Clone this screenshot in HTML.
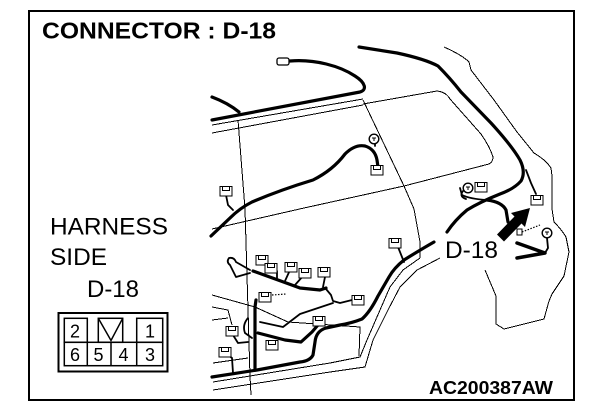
<!DOCTYPE html>
<html><head><meta charset="utf-8">
<style>html,body{margin:0;padding:0;background:#fff}svg{display:block}</style></head>
<body>
<svg width="608" height="418" viewBox="0 0 608 418" xmlns="http://www.w3.org/2000/svg">
<defs>
<g id="cn" shape-rendering="crispEdges"><rect x="-6" y="-4.5" width="12" height="9.5" fill="#fff" stroke="#000" stroke-width="1.3"/><rect x="-3.5" y="-4.5" width="7" height="4" fill="none" stroke="#000" stroke-width="1"/></g>
<g id="rc"><circle cx="0" cy="0" r="4.8" fill="#fff" stroke="#000" stroke-width="1.4"/><path d="M-2,-1 L2,-1 M0,-1 L0,2" stroke="#000" stroke-width="1" fill="none"/></g>
</defs>
<rect x="0" y="0" width="608" height="418" fill="#fff"/>
<rect x="29" y="11" width="545" height="389" fill="none" stroke="#000" stroke-width="2" shape-rendering="crispEdges"/>
<text x="42" y="38.3" font-family="Liberation Sans, Arial, sans-serif" font-weight="bold" font-size="23.3" textLength="234" lengthAdjust="spacingAndGlyphs">CONNECTOR : D-18</text>

<g font-family="Liberation Sans, Arial, sans-serif" font-size="24.5">
<text x="50" y="234.3" textLength="118" lengthAdjust="spacingAndGlyphs">HARNESS</text>
<text x="50" y="265" textLength="57" lengthAdjust="spacingAndGlyphs">SIDE</text>
<text x="87" y="297" textLength="52" lengthAdjust="spacingAndGlyphs">D-18</text>
<text x="445" y="258" textLength="53" lengthAdjust="spacingAndGlyphs">D-18</text>
</g>

<!-- connector face -->
<rect x="58.5" y="313" width="109" height="58.5" fill="none" stroke="#000" stroke-width="2"/>
<g fill="none" stroke="#000" stroke-width="1.5">
<rect x="64.3" y="342.3" width="98.4" height="23.4"/>
<path d="M87.3,342.3 V365.7 M111,342.3 V365.7 M136.7,342.3 V365.7"/>
<rect x="64.3" y="318.3" width="23" height="24"/>
<rect x="98.3" y="318.3" width="24.4" height="24"/>
<path d="M98.3,318.3 L111,340.5 L122.7,318.3"/>
<rect x="136.7" y="318.3" width="26" height="24"/>
</g>
<g font-family="Liberation Sans, Arial, sans-serif" font-size="18" text-anchor="middle">
<text x="75" y="337.3">2</text>
<text x="150" y="337.3">1</text>
<text x="75" y="360.8">6</text>
<text x="98.5" y="360.8">5</text>
<text x="123.5" y="360.8">4</text>
<text x="150" y="360.8">3</text>
</g>

<!-- thin body lines -->
<g fill="none" stroke="#000" stroke-width="1" shape-rendering="crispEdges">
<path d="M212,125 L363,99"/>
<path d="M212,133 L363,105"/>
<path d="M363,104 L437,91 Q446,92 450,99 L481,134 Q490,147 493,157 Q493,162 489,164 L404,186 L304,208 L212,229"/>
<path d="M363,100 L404,186 L414,209 L420,242 L420,258"/>
<path d="M238,120 L245,209 L250,376 L251,395"/>
<path d="M444,47 Q462,55 469,62 L471,70 L494,100 L517,132 L534,153 Q546,160 551,168 L552,176 L552,209 L554,222 Q562,230 566,237 L569,252 L564,276 L552,294 L549,301 L544,319 L504,329 L496,324 L496,296 L485,270"/>
<path d="M420,258 L403,270 L390,287 L380,310 L367,340 L360,357 L330,363 L213,382"/>
<path d="M440,258 L417,270 L400,287 L388,310 L373,340 L365,367 L330,372 L213,390"/>
<path d="M212,295 L255,307 L288,322"/>
<path d="M212,307 L228,310 L232,325"/>
<path d="M213,363 L248,358"/>
<path d="M288,322 L360,327 L359,356"/>
<path d="M212,320 L228,318"/>
</g>

<!-- thick wires -->
<g fill="none" stroke="#000" stroke-width="3.2" stroke-linecap="round" stroke-linejoin="round">
<path d="M290,61 C315,59 340,66 355,76 C366,83 367,90 360,92 L212,120"/>
<path d="M212,97 Q228,103 239,112"/>
<path d="M359,47 L397,53 Q425,59 438,66 Q450,78 461,92 L491,123 Q512,146 520,160 Q526,172 521,181 Q514,189 500,194 Q480,202 467,210 Q455,220 447,232"/>
<path d="M434,242 Q420,250 404,260 Q394,268 389,277 L378,296 Q370,312 362,319 Q352,323 340,325 L326,328 Q316,331 315,342 L313,355 Q310,361 300,362 L257,370 L212,377"/>
<path d="M211,236 L230,218 Q240,208 252,202 Q280,190 313,180 Q333,170 345,154 Q355,144 365,146 Q375,149 377,160 L378,167"/>
<path d="M487,200 Q502,202 506,210 L508,222"/>
<path d="M253,271 L278,280 L300,288 L320,290 L326,288"/>
<path d="M256,300 L255,307 L255,369"/>
<path d="M258,333 L285,340 L301,342 L312,332 L318,325"/>
<path d="M517,243 L545,253 L517,258" stroke-width="3.5"/>
</g>

<!-- medium wires -->
<g fill="none" stroke="#000" stroke-width="1.8" stroke-linecap="round" stroke-linejoin="round">
<path d="M460,188 L462,195 Q470,199 487,200"/>
<path d="M375,146 L375,140"/>
<path d="M226,195 L228,205 L233,210"/>
<path d="M398,247 L404,262"/>
<path d="M277,278 L277,271 M285,281 L290,270 M295,285 L303,276 M323,287 L325,277"/>
<path d="M326,289 L331,295 L333,301 L340,303 L352,300"/>
<path d="M260,322 L283,327 L300,314 L333,303"/>
<path d="M233,335 L238,343 L248,342"/>
<path d="M228,355 L232,358 L233,373"/>
<path d="M248,318 Q242,325 245,333 L252,338"/>
<path d="M250,270 L236,262 Q234,257 229,258 Q226,262 230,265 L236,277 L250,273"/>
<path d="M526,170 L531,183 L536,194"/>
<path d="M547,238 L548,248 L545,253"/>
<path d="M464,190 Q458,196 466,199"/>
</g>
<g fill="none" stroke="#000" stroke-width="1.2" stroke-dasharray="1.5,1.5">
<path d="M522,232 L540,225"/>
<path d="M272,295 L286,294"/>
</g>

<!-- arrow -->
<polygon points="497,234.5 504,241.5 521.5,223.5 525,227 530,208 511,213 514.5,216.5" fill="#000"/>

<!-- connectors -->
<rect x="277" y="58" width="12" height="7" rx="2" fill="#fff" stroke="#000" stroke-width="1.3"/>
<use href="#rc" x="374" y="139"/>
<use href="#cn" x="377" y="170"/>
<use href="#cn" x="226" y="191"/>
<use href="#cn" x="395" y="243"/>
<use href="#rc" x="468" y="188"/>
<use href="#cn" x="481" y="187"/>
<use href="#cn" x="537" y="200"/>
<use href="#rc" x="547" y="233"/>
<use href="#cn" x="262" y="260"/>
<use href="#cn" x="271" y="268"/>
<use href="#cn" x="291" y="267"/>
<use href="#cn" x="305" y="273"/>
<use href="#cn" x="324" y="272"/>
<use href="#cn" x="265" y="297"/>
<use href="#cn" x="319" y="321"/>
<use href="#cn" x="272" y="345"/>
<use href="#cn" x="232" y="331"/>
<use href="#cn" x="225" y="352"/>
<use href="#cn" x="358" y="300"/>
<rect x="517" y="229" width="5" height="6" fill="#fff" stroke="#000" stroke-width="1"/>

<text x="429" y="394" font-family="Liberation Sans, Arial, sans-serif" font-weight="bold" font-size="18.6" textLength="124" lengthAdjust="spacingAndGlyphs">AC200387AW</text>
</svg>
</body></html>
